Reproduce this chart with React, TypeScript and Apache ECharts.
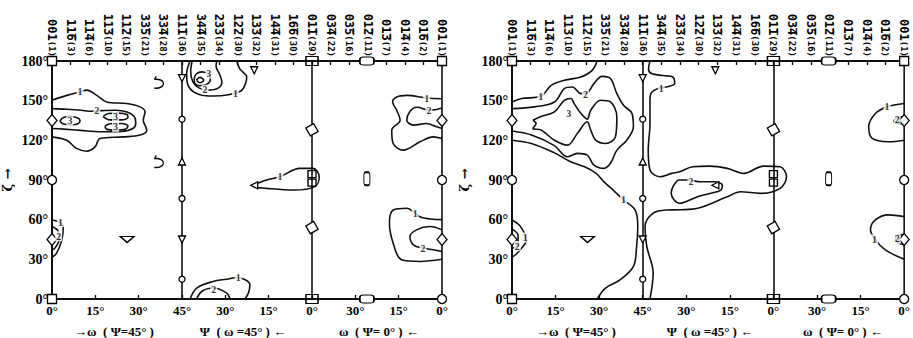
import React, { useEffect, useRef } from "react";
import * as echarts from "echarts";

type Pt = [number, number];
type Lab = [number, number, string];

// ---- axis texts ----
const topMain = ["001", "11\u03056", "11\u03054", "11\u03053", "11\u03052", "33\u03055", "33\u03054", "11\u03051", "34\u03054", "23\u03053", "12\u03052", "13\u03053", "14\u03054", "16\u03056", "01\u03051", "03\u03054", "03\u03055", "01\u03052", "01\u03053", "01\u03054", "01\u03056", "001"];
const topMult = ["1", "3", "6", "10", "15", "21", "28", "36", "35", "34", "30", "32", "31", "30", "29", "22", "16", "11", "7", "4", "2", "1"];
const segNames = ["\u2192\u03c9  ( \u03a8=45\u00b0 )", "\u03a8  ( \u03c9 =45\u00b0 ) \u2190", "\u03c9  ( \u03a8= 0\u00b0 ) \u2190"];
const yName = "\u03b6 \u2192";

// ---- panel 1 (left) contours, [position along boundary 0..135, zeta] ----
const p1UpperLeft1: Pt[] = [[0, 150.3], [5.1, 154], [9.7, 156.6], [12, 158], [15.5, 154], [18.9, 149], [25.9, 147.8], [30.5, 145.3], [32.2, 141.5], [31.6, 135.2], [32.8, 127.7], [30.5, 124], [24.7, 122.6], [16.6, 121.4], [14.9, 115], [12, 111.8], [8.5, 113.9], [5.1, 120], [0, 122.6]];
const p1UpperLeft2: Pt[] = [[0, 144], [5, 143.5], [10, 142.8], [13.5, 142], [17.5, 142.5], [22, 142.8], [26, 141.5], [28.5, 138], [29, 133], [28, 129], [24, 126.8], [17, 126.5], [10, 127.5], [4, 128.5], [0, 129]];
const p1Peak3a: Pt[] = [[2.7, 134.7], [4, 137.3], [6.2, 138], [8.7, 137], [9.7, 134.7], [8.5, 132.2], [6.2, 131.7], [3.8, 132.5], [2.7, 134.7]];
const p1Peak3b: Pt[] = [[17.7, 138], [19.5, 140.3], [23, 140.6], [26, 139.5], [26.3, 137.2], [24, 135.5], [20, 135.5], [17.7, 138]];
const p1Peak3c: Pt[] = [[18.3, 130.5], [20, 132.5], [24, 132.7], [26.3, 131], [25.5, 128.5], [22, 127.7], [19, 128.3], [18.3, 130.5]];
const p1TopMid1: Pt[] = [[47.8, 180], [46.6, 170.4], [47.1, 161.6], [50.1, 155.5], [55.8, 153.5], [61, 154.5], [65.5, 157.5], [67, 163], [67.4, 168], [65, 174], [64, 180]];
const p1TopMid2: Pt[] = [[48.5, 180], [48, 172], [48.8, 164], [51, 159.5], [54, 158], [57.5, 159.5], [58.8, 164], [58, 170], [56.8, 176], [57, 180]];
const p1TopMid3: Pt[] = [[49.2, 166], [49.9, 170.2], [52, 171.8], [54.2, 170], [54.8, 166], [53.5, 162.2], [51, 161.3], [49.5, 163], [49.2, 166]];
const p1TopMid4: Pt[] = [[50, 165.5], [51.2, 167.6], [52.5, 165.5], [51.2, 163.5], [50, 165.5]];
const p1BotMid1: Pt[] = [[47.8, 0], [50.1, 8.3], [55.8, 13.3], [60.5, 15], [64, 16.3], [68.5, 10.8], [68, 4.5], [66.8, 0]];
const p1BotMid2: Pt[] = [[50.1, 0], [51.8, 5.7], [55.8, 8.3], [60.5, 4.5], [61.6, 0]];
const p1Mid1: Pt[] = [[69.7, 86.2], [74.3, 90], [78.9, 92.5], [85.8, 98.8], [90.4, 98.8], [92.5, 92.5], [91, 85], [83.5, 82.4], [74.3, 83.7], [69.7, 85], [69.7, 86.2]];
const p1RightUp1: Pt[] = [[135, 151.5], [129.7, 152], [122.8, 154], [119.3, 152.8], [117.9, 149], [119.3, 142.8], [120.5, 135.2], [117.6, 127.7], [118.1, 117.6], [121.6, 112.6], [127.4, 118.9], [132, 122.6], [135, 121.4]];
const p1RightUp2: Pt[] = [[135, 144.5], [130.8, 142.8], [126.2, 145], [123.9, 141.8], [122.8, 135.2], [125.1, 131.5], [129.7, 132.7], [133.2, 130.2], [135, 129]];
const p1RightLo1: Pt[] = [[135, 60], [131, 60.5], [127.5, 62], [125.7, 65], [122.8, 68.6], [118.1, 67.3], [116.8, 57.3], [118.1, 42.2], [121, 29.6], [127.4, 28.4], [135, 30]];
const p1RightLo2: Pt[] = [[135, 52.3], [130.8, 54.8], [126.2, 52.3], [123.9, 47.2], [125.1, 41], [128.4, 38.5], [132, 37.2], [135, 36]];
const p1Left1: Pt[] = [[0, 59.8], [2.2, 58.5], [3.9, 54.8], [3.4, 44.7], [1.6, 34.7], [0, 31.6]];
const p1Left2: Pt[] = [[0, 54.8], [2.2, 51], [2.4, 44.7], [1, 38.5], [0, 37]];
const p1Labels: Lab[] = [[9.7, 156.6, "1"], [15.5, 142.2, "2"], [6.2, 134.7, "3"], [22, 138, "3"], [22, 130.2, "3"], [54.3, 170.5, "3"], [53, 158.3, "2"], [63.5, 155.5, "1"], [64.5, 16.5, "1"], [56, 7.5, "2"], [78.9, 92.5, "1"], [129.7, 152, "1"], [130.5, 142.8, "2"], [125.7, 65, "1"], [128.4, 38.3, "2"], [2.9, 58.2, "1"], [2.3, 47.5, "2"]];

// ---- panel 2 (right) contours ----
const p2TopLeft1: Pt[] = [[0, 149], [3.3, 151.6], [9.9, 153.3], [13.5, 161.6], [18, 165.4], [23.7, 167.9], [27.6, 172.9], [29.3, 180]];
const p2LowLeft1: Pt[] = [[0, 120.1], [6.7, 117.6], [14.6, 110.5], [20, 104], [25, 100], [29, 95], [31.5, 89], [34, 84], [38.4, 74.9], [42.4, 67.3], [43.3, 54.8], [42.9, 39.7], [41.8, 24.6], [37.3, 14.6], [32.2, 8.3], [29.3, 0]];
const p2Left2: Pt[] = [[0, 144], [7.8, 145.3], [14.6, 149], [18, 159.1], [20.8, 160.3], [23.7, 155.3], [25.9, 156], [28.2, 162.9], [31, 168.4], [33.9, 166.7], [36.1, 155.3], [38.4, 146.5], [41.3, 140.3], [41.8, 130.2], [39.5, 120.1], [36.1, 112.6], [33.9, 102.6], [31.6, 98.8], [28.2, 101.3], [25.9, 108.8], [22.5, 110.1], [19.1, 107.6], [14.6, 116], [6.7, 124], [0, 127]];
const p2Left3: Pt[] = [[7.2, 135.2], [10, 138], [14.6, 141.5], [18, 150.3], [20.3, 151.6], [21.4, 147.8], [23.5, 141], [25.9, 136], [27.1, 142.8], [30.5, 150.3], [33.9, 149], [36.1, 137.7], [35.6, 122.6], [32.2, 117.6], [28.8, 120.1], [27.1, 127.7], [25.9, 134], [22.5, 125.2], [19.1, 116.4], [14.6, 120.1], [10.1, 127.7], [7.2, 129], [8.3, 132.7], [7.2, 135.2]];
const p2Mid1: Pt[] = [[47.5, 180], [47, 174], [48, 170.5], [52, 169], [55.4, 167.9], [56, 162.9], [53.1, 160.3], [50.5, 159.3], [48, 156], [47.5, 150.3], [47.5, 132.7], [46.9, 112.6], [47.5, 97.5], [50.9, 92.5], [55, 95], [57.7, 96.2], [62.2, 100], [68, 100.5], [74.1, 98.8], [79.8, 95], [86.6, 100.5], [92.3, 100], [94.5, 92.5], [92.3, 83.7], [85.5, 79.9], [78.7, 81.1], [74.1, 77.4], [63.9, 68.6], [58, 67.5], [53.1, 67.3], [48.6, 64.9], [45.8, 54.8], [46.4, 39.7], [48.6, 19.6], [47.5, 0]];
const p2Mid2: Pt[] = [[57.1, 90], [60, 90], [65, 88.7], [69.6, 88.7], [72.4, 86.2], [71.9, 82.4], [68.4, 79.9], [63.9, 77.4], [57.7, 72.4], [54.8, 79.9], [55.4, 85], [57.1, 90]];
const p2RightUp1: Pt[] = [[135, 147.8], [129.1, 145.3], [125.1, 140.3], [122.8, 130.2], [124, 121.4], [129.6, 118.9], [135, 120.1]];
const p2RightUp2: Pt[] = [[135, 138], [132.5, 137], [131.5, 134.5], [133, 132.5], [135, 133]];
const p2RightLo1: Pt[] = [[135, 62.3], [129.6, 63.6], [125.1, 59.8], [123.4, 52.3], [125.1, 44.7], [128.5, 37.2], [135, 30]];
const p2RightLo2: Pt[] = [[135, 48.7], [132.5, 48], [132, 44.7], [133.5, 42], [135, 41]];
const p2Left1: Pt[] = [[0, 59.8], [2.5, 56], [4.2, 50], [5, 44.7], [3.3, 38.5], [1.5, 34], [0, 31.6]];
const p2Left1b: Pt[] = [[0, 53], [2.1, 48], [2.1, 42], [0, 38]];
const p2Labels: Lab[] = [[9.9, 153.3, "1"], [25.3, 154.8, "2"], [19.5, 140, "3"], [38.4, 74.9, "1"], [51.4, 159.1, "1"], [61.6, 88.7, "2"], [129.1, 145.3, "1"], [132.6, 135.5, "2"], [124.8, 45, "1"], [132.6, 45.5, "2"], [4.6, 46.5, "1"], [1.8, 40, "2"]];

// ---- ideal-orientation marks (shared by both sections) ----
const edgeSquares: Pt[] = [[0, 180], [0, 0], [135, 180]];
const edgeCircles: Pt[] = [[0, 90], [135, 90], [135, 0]];
const edgeDiamonds: Pt[] = [[0, 135], [0, 45], [135, 135], [135, 45]];
const boxMarks: Pt[] = [[90, 180], [90, 0]];
const tiltedBoxes: Pt[] = [[90, 128], [90, 54]];
const stackedBoxes: Pt[] = [[90, 94.5], [90, 88]];
const wideBoxes: Pt[] = [[109, 180], [109, 0]];
const tallBoxes: Pt[] = [[109, 91]];
const downTriangles: Pt[] = [[45, 167], [45, 45], [70, 173]];
const upTriangles: Pt[] = [[45, 104]];
const smallCircles: Pt[] = [[45, 136], [45, 76], [45, 15]];
const flatTriangles: Pt[] = [[26, 45]];
const leftTriangles: Pt[] = [[70, 86]];
const arcMarks: Pt[] = [[37, 164], [37, 104]];
const dividers = [45, 90];

const p1Contours = [p1UpperLeft1, p1UpperLeft2, p1Peak3a, p1Peak3b, p1Peak3c, p1TopMid1, p1TopMid2, p1TopMid3, p1TopMid4, p1BotMid1, p1BotMid2, p1Mid1, p1RightUp1, p1RightUp2, p1RightLo1, p1RightLo2, p1Left1, p1Left2];
const p2Contours = [p2TopLeft1, p2LowLeft1, p2Left2, p2Left3, p2Mid1, p2Mid2, p2RightUp1, p2RightUp2, p2RightLo1, p2RightLo2, p2Left1, p2Left1b];

const FONT = "Liberation Serif";
const ARC = "path://M2,1 A4.2,4.2 0 1 1 2,9 M2,1 L3.2,-2";

const grids = [
  { left: 52, top: 61, width: 390, height: 238 },
  { left: 512, top: 61, width: 397, height: 238 },
];

function bottomLabel(v: number) {
  const d = v <= 45 ? v : v <= 90 ? 90 - v : 135 - v;
  return d + "\u00b0";
}

function symbolSeries(panel: number, data: Pt[], symbol: string, size: any, rotate = 0, fill = "#fff") {
  return {
    type: "scatter", xAxisIndex: panel * 2, yAxisIndex: panel, data, symbol, symbolSize: size, symbolRotate: rotate,
    itemStyle: { color: fill, borderColor: "#000", borderWidth: 1.3, opacity: 1 }, z: 6, silent: true,
  };
}

function panelSeries(panel: number, contours: Pt[][], labels: Lab[], arcs: boolean) {
  const s: any[] = [];
  s.push({
    type: "line", xAxisIndex: panel * 2, yAxisIndex: panel, data: [], silent: true,
    markLine: { silent: true, symbol: "none", label: { show: false }, lineStyle: { color: "#000", width: 1.5, type: "solid" }, data: dividers.map((d) => ({ xAxis: d })) },
  });
  contours.forEach((c) => {
    s.push({ type: "line", xAxisIndex: panel * 2, yAxisIndex: panel, data: c, smooth: 0.35, symbol: "none", silent: true, lineStyle: { color: "#111", width: 1.6 }, z: 3 });
  });
  s.push({
    type: "scatter", xAxisIndex: panel * 2, yAxisIndex: panel, data: labels, symbolSize: 1, silent: true, z: 7,
    itemStyle: { color: "rgba(0,0,0,0)" },
    label: { show: true, position: "inside", formatter: (p: any) => p.value[2], fontFamily: FONT, fontWeight: "bold", fontSize: 10, color: "#000", backgroundColor: "#fff", padding: [0, 1] },
  });
  s.push(symbolSeries(panel, edgeSquares, "rect", 9));
  s.push(symbolSeries(panel, edgeCircles, "circle", 9));
  s.push(symbolSeries(panel, edgeDiamonds, "diamond", [10, 12]));
  s.push(symbolSeries(panel, boxMarks, "rect", [12, 9], 0, "rgba(0,0,0,0)"));
  s.push(symbolSeries(panel, tiltedBoxes, "rect", 9, 30));
  s.push(symbolSeries(panel, stackedBoxes, "rect", [8, 7], 0, "rgba(0,0,0,0)"));
  s.push(symbolSeries(panel, wideBoxes, "roundRect", [14, 8]));
  s.push(symbolSeries(panel, tallBoxes, "roundRect", [6, 13]));
  s.push(symbolSeries(panel, downTriangles, "triangle", 7, 180));
  s.push(symbolSeries(panel, upTriangles, "triangle", 7));
  s.push(symbolSeries(panel, smallCircles, "circle", 6));
  s.push(symbolSeries(panel, flatTriangles, "triangle", [14, 6], 180));
  s.push(symbolSeries(panel, leftTriangles, "triangle", 7, 90));
  if (arcs) s.push(symbolSeries(panel, arcMarks, ARC, [9, 12], 0, "rgba(0,0,0,0)"));
  return s;
}

function buildOption() {
  const xAxis: any[] = [];
  const yAxis: any[] = [];
  grids.forEach((g, i) => {
    xAxis.push({
      type: "value", gridIndex: i, min: 0, max: 135, interval: 15, position: "bottom",
      axisLine: { show: true, lineStyle: { color: "#000", width: 1.5 } },
      axisTick: { show: true, inside: true, length: 4, lineStyle: { color: "#000", width: 1.3 } },
      splitLine: { show: false },
      axisLabel: { formatter: bottomLabel, fontFamily: FONT, fontWeight: "bold", fontSize: 13, color: "#000", margin: 5 },
    });
    xAxis.push({
      type: "category", gridIndex: i, position: "top", boundaryGap: false,
      data: topMain.map((_, k) => String(k)),
      axisLine: { show: true, lineStyle: { color: "#000", width: 1.5 } },
      axisTick: { show: true, inside: true, length: 4, interval: 0, lineStyle: { color: "#000", width: 1.3 } },
      splitLine: { show: false },
      axisLabel: {
        interval: 0, rotate: 90, margin: 4,
        formatter: (_v: string, k: number) => `{m|${topMain[k]}}{p|(${topMult[k]})}`,
        rich: {
          m: { fontFamily: "DejaVu Sans Mono", fontWeight: "bold", fontSize: 12, color: "#000" },
          p: { fontFamily: "DejaVu Sans Mono", fontWeight: "bold", fontSize: 9, color: "#000" },
        },
      },
    });
    yAxis.push({
      type: "value", gridIndex: i, min: 0, max: 180, interval: 30,
      axisLine: { show: true, lineStyle: { color: "#000", width: 1.5 } },
      axisTick: { show: false },
      splitLine: { show: false },
      axisLabel: { formatter: (v: number) => v + "\u00b0", fontFamily: FONT, fontWeight: "bold", fontSize: 14, color: "#000", margin: 4 },
      name: yName, nameLocation: "middle", nameRotate: 90, nameGap: i === 0 ? 38 : 41,
      nameTextStyle: { fontFamily: "DejaVu Serif", fontWeight: "bold", fontSize: 13, color: "#000" },
    });
  });

  const nameCenters = [[114, 243, 379], [576, 710, 843]];
  const graphic: any[] = [];
  nameCenters.forEach((row) => row.forEach((cx, k) => {
    graphic.push({
      type: "text", x: cx, y: 331, silent: true,
      style: { text: segNames[k], fill: "#000", font: `bold 13px "${FONT}"`, align: "center", verticalAlign: "middle", textAlign: "center", textVerticalAlign: "middle" },
    });
  }));

  return {
    animation: false,
    backgroundColor: "#fff",
    grid: grids.map((g) => ({ ...g, show: true, borderColor: "#000", borderWidth: 1.5, backgroundColor: "transparent" })),
    xAxis, yAxis, graphic,
    series: [...panelSeries(0, p1Contours, p1Labels, true), ...panelSeries(1, p2Contours, p2Labels, false)],
  };
}

export default function App() {
  const ref = useRef<HTMLDivElement>(null);
  useEffect(() => {
    if (!ref.current) return;
    const chart = echarts.init(ref.current, undefined, { renderer: "svg" });
    chart.setOption(buildOption() as any);
    return () => chart.dispose();
  }, []);
  return <div ref={ref} style={{ position: "fixed", left: 0, top: 0, width: 913, height: 338, background: "#fff" }} />;
}
